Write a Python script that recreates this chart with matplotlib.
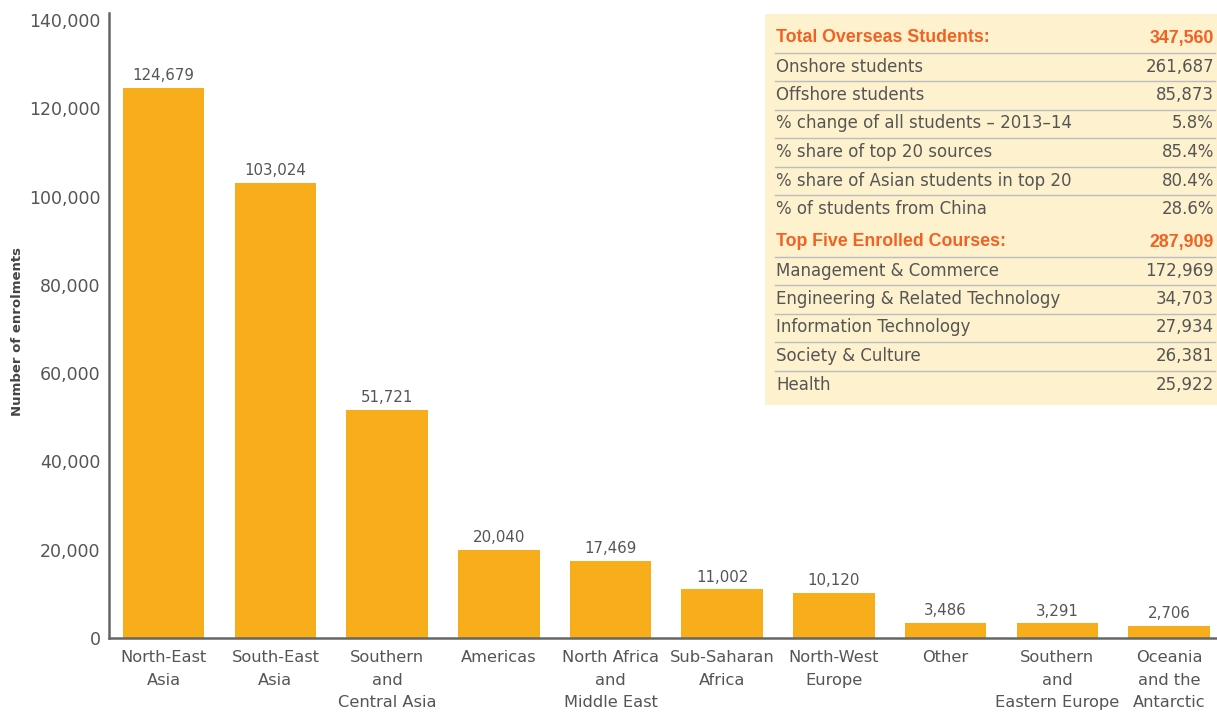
"""Overseas student enrolments by region, with summary table."""

import matplotlib

matplotlib.use("Agg")
import matplotlib.pyplot as plt
import numpy as np

REGIONS = [
    "North-East\nAsia",
    "South-East\nAsia",
    "Southern\nand\nCentral Asia",
    "Americas",
    "North Africa\nand\nMiddle East",
    "Sub-Saharan\nAfrica",
    "North-West\nEurope",
    "Other",
    "Southern\nand\nEastern Europe",
    "Oceania\nand the\nAntarctic",
]
ENROLMENTS = [124679, 103024, 51721, 20040, 17469, 11002, 10120, 3486, 3291, 2706]

SUMMARY_HEADER = ("Total Overseas Students:", "347,560")
SUMMARY_ROWS = [
    ("Onshore students", "261,687"),
    ("Offshore students", "85,873"),
    ("% change of all students \u2013 2013\u201314", "5.8%"),
    ("% share of top 20 sources", "85.4%"),
    ("% share of Asian students in top 20", "80.4%"),
    ("% of students from China", "28.6%"),
]
COURSES_HEADER = ("Top Five Enrolled Courses:", "287,909")
COURSES_ROWS = [
    ("Management & Commerce", "172,969"),
    ("Engineering & Related Technology", "34,703"),
    ("Information Technology", "27,934"),
    ("Society & Culture", "26,381"),
    ("Health", "25,922"),
]

BAR_COLOR = "#F8AE1A"
TEXT_COLOR = "#555555"
ACCENT = "#F26122"
HEAD_FONT = ["Liberation Sans", "DejaVu Sans"]

plt.rcParams["font.family"] = ["DejaVu Sans"]

W, H = 1217, 712
fig = plt.figure(figsize=(W / 100, H / 100), dpi=100)
ax = fig.add_axes([109 / W, 74 / H, 1 - 109 / W, (638 - 13) / H])

x = np.arange(len(REGIONS))
bars = ax.bar(x, ENROLMENTS, width=0.73, color=BAR_COLOR, zorder=2)
for rect, val in zip(bars, ENROLMENTS):
    ax.annotate(f"{val:,}", (rect.get_x() + rect.get_width() / 2, val),
                xytext=(0, 3.5), textcoords="offset points", ha="center", va="bottom",
                fontsize=10.8, color=TEXT_COLOR)

ax.set_xlim(-0.49, 9.43)
ax.set_ylim(0, 141600)
ax.set_yticks(np.arange(0, 140001, 20000))
ax.yaxis.set_major_formatter(matplotlib.ticker.FuncFormatter(lambda v, _: f"{int(v):,}"))
ax.set_xticks(x)
ax.set_xticklabels(REGIONS, linespacing=1.6)
ax.tick_params(axis="both", length=0, labelcolor=TEXT_COLOR)
ax.tick_params(axis="y", pad=6, labelsize=12.5)
ax.tick_params(axis="x", pad=9, labelsize=11.7)
for side in ("top", "right"):
    ax.spines[side].set_visible(False)
for side in ("left", "bottom"):
    ax.spines[side].set_color("#666666")
    ax.spines[side].set_linewidth(1.8)
ax.set_ylabel("Number of enrolments", fontsize=9.5, fontweight="bold", color="#444444")
ax.yaxis.set_label_coords(-0.077, 0.49)

# summary table drawn in pixel-like coordinates
tx0, ty0, tx1, ty1 = 765, 14, 1217, 405
tab = fig.add_axes([tx0 / W, 1 - ty1 / H, (tx1 - tx0) / W, (ty1 - ty0) / H])
tab.set_xlim(0, tx1 - tx0)
tab.set_ylim(ty1 - ty0, 0)
tab.set_facecolor("#FEF2CE")
for s in tab.spines.values():
    s.set_visible(False)
tab.set_xticks([])
tab.set_yticks([])

left, right = 11, 449
row_h = 28.5


def draw_block(y_header, header, rows):
    tab.text(left, y_header, header[0], color=ACCENT, fontweight="bold", fontsize=12.8,
             family=HEAD_FONT, va="center", ha="left")
    tab.text(right, y_header, header[1], color=ACCENT, fontweight="bold", fontsize=12.8,
             family=HEAD_FONT, va="center", ha="right")
    y = y_header
    for label, val in rows:
        y += row_h
        tab.plot([left - 1, right + 1], [y - 14, y - 14], color="#B9BDC0", lw=1.0)
        tab.text(left, y, label, color=TEXT_COLOR, fontsize=12, va="center", ha="left")
        tab.text(right, y, val, color=TEXT_COLOR, fontsize=12, va="center", ha="right")
    return y


draw_block(24, SUMMARY_HEADER, SUMMARY_ROWS)
draw_block(228, COURSES_HEADER, COURSES_ROWS)

fig.savefig("out.png", dpi=100)
